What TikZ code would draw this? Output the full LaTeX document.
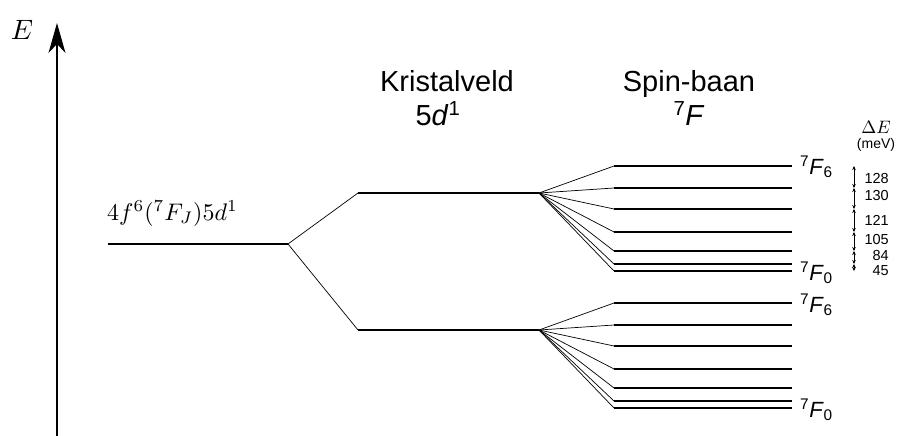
\documentclass[tikz,border=0pt]{standalone}
\usepackage{graphicx}
\usepackage{fontspec}
\setmainfont{Liberation Sans}
\usetikzlibrary{arrows.meta}
\tikzset{
  level/.style={line width=1.3pt},
  fan/.style={line width=0.7pt},
  axisarrow/.style={line width=1.2pt,-{Stealth[length=30pt,width=17pt,inset=9pt]}},
  dearrow/.style={line width=0.5pt,{Stealth[length=4pt,width=3.5pt]}-{Stealth[length=4pt,width=3.5pt]}},
  head/.style={font=\fontsize{29}{32}\selectfont,anchor=base,inner sep=0pt},
  term/.style={font=\fontsize{22}{24}\selectfont,anchor=west,inner sep=0pt},
  num/.style={font=\fontsize{14.5}{15}\selectfont,anchor=east,inner sep=0pt},
}
\begin{document}
\begin{tikzpicture}[x=1pt,y=-1pt]
\useasboundingbox (0,0) rectangle (898,436);
% energy axis
\coordinate (ax0) at (57,436);
\coordinate (ax1) at (57,23);
\draw[axisarrow] (ax0) -- (ax1);
\node (E) at (22,30) {\scalebox{2.8}{$E$}};
% main level
\coordinate (g0) at (108,244);
\coordinate (g) at (288,244);
\draw[level] (g0) -- (g);
\node[anchor=base west,inner sep=0pt] (glab) at (107,220) {\scalebox{2.4}{$4f^6(^7F_J)5d^1$}};
% crystal field
\coordinate (ua) at (358,193); \coordinate (ub) at (539,193);
\coordinate (la) at (358,330); \coordinate (lb) at (539,330);
\draw[fan] (g) -- (ua);
\draw[fan] (g) -- (la);
\draw[level] (ua) -- (ub);
\draw[level] (la) -- (lb);
\node[head] (kv) at (447,92) {Kristalveld};
\node[head] (kv2) at (438,125) {5\textit{d}\textsuperscript{1}};
\node[head] (sb) at (689,92) {Spin-baan};
\node[head] (sb2) at (689,125) {\textsuperscript{7}\textit{F}};
% spin-orbit upper
\foreach \y [count=\i] in {166,188,209,232,251,264,271}{
  \coordinate (u\i a) at (614,\y);
  \coordinate (u\i b) at (792,\y);
  \draw[fan] (ub) -- (u\i a);
  \draw[level] (u\i a) -- (u\i b);
}
% spin-orbit lower
\foreach \y [count=\i] in {303,325,346,369,388,401,408}{
  \coordinate (l\i a) at (614,\y);
  \coordinate (l\i b) at (792,\y);
  \draw[fan] (lb) -- (l\i a);
  \draw[level] (l\i a) -- (l\i b);
}
\node[term] (t1) at (800,167) {\textsuperscript{7}\textit{F}\textsubscript{6}};
\node[term] (t2) at (800,273) {\textsuperscript{7}\textit{F}\textsubscript{0}};
\node[term] (t3) at (800,305) {\textsuperscript{7}\textit{F}\textsubscript{6}};
\node[term] (t4) at (800,410) {\textsuperscript{7}\textit{F}\textsubscript{0}};
% Delta E column
\node (dE) at (876,127) {\scalebox{1.8}{$\Delta E$}};
\node (mev) at (876,145) {\fontsize{14}{15}\selectfont(meV)};
\foreach \y [count=\i] in {166,188,209,232,251,264,271}{
  \coordinate (d\i) at (854,\y);
}
\foreach \a/\b in {1/2,2/3,3/4,4/5,5/6,6/7}{
  \draw[dearrow] (d\a) -- (d\b);
}
\node[num] (n1) at (889,179) {128};
\node[num] (n2) at (889,196) {130};
\node[num] (n3) at (889,220) {121};
\node[num] (n4) at (889,240) {105};
\node[num] (n5) at (889,256) {84};
\node[num] (n6) at (889,271) {45};
\end{tikzpicture}
\end{document}
